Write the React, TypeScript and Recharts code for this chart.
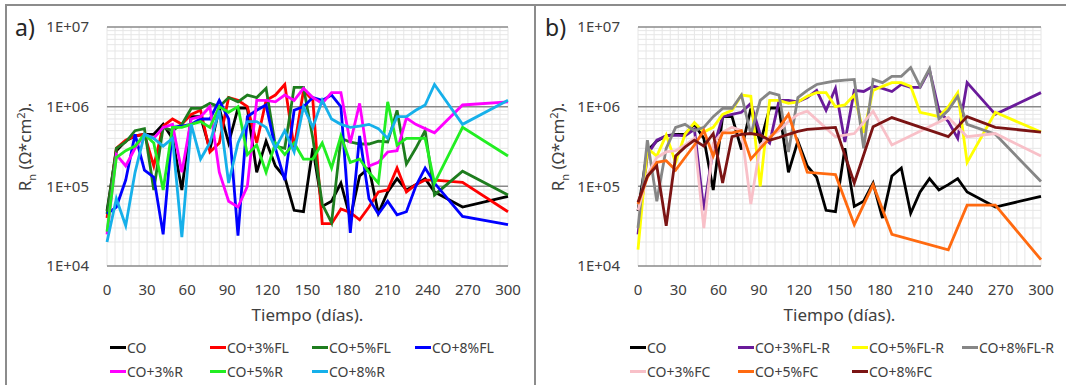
import { LineChart, Line, XAxis, YAxis, CartesianGrid, Legend } from "recharts";

// sampling days (weekly, then two late readings)
const DAYS = [0, 7, 14, 21, 28, 35, 42, 49, 56, 63, 70, 77, 84, 91, 98, 105, 112, 119, 126, 133, 140, 147, 154, 161, 168, 175, 182, 189, 196, 203, 210, 217, 224, 231, 238, 245, 266, 300];

const CO = [4.9e4, 2.8e5, 3.7e5, 4.3e5, 4.5e5, 4.5e5, 6e5, 4e5, 9e4, 7.5e5, 7.5e5, 2.9e5, 9.5e5, 3.5e5, 9.6e5, 9.6e5, 1.5e5, 3.7e5, 1.8e5, 1.3e5, 5e4, 4.8e4, 3e5, 5.6e4, 6.5e4, 1.1e5, 4e4, 1.35e5, 1.7e5, 4.6e4, 8.5e4, 1.25e5, 9e4, 1.05e5, 1.25e5, 8.5e4, 5.5e4, 7.5e4];

// panel a)
const CO_3FL = [4e4, 3e5, 3.8e5, 4.3e5, 4.5e5, 1.8e5, 5.7e5, 7e5, 6e5, 8e5, 9e5, 2.7e5, 3.5e5, 1.3e6, 1.2e6, 1e6, 3.5e5, 1.2e6, 1.4e6, 1.9e6, 3e5, 1.6e6, 1.2e6, 3.4e4, 3.4e4, 5.2e4, 4.7e4, 3.8e4, 5.5e4, 8.5e4, 9e4, 1.7e5, 8.5e4, 1.05e5, 1.2e5, 1.2e5, 1.12e5, 4.8e4];
const CO_5FL = [4.5e4, 3e5, 3.6e5, 5e5, 5.3e5, 9e4, 5.5e5, 5e5, 6e5, 9.5e5, 9.5e5, 1.1e6, 1e6, 1.3e6, 1.15e6, 1.4e6, 1.3e6, 1.7e6, 3.2e5, 3e5, 1.75e6, 1.75e6, 4e5, 6e4, 3.5e4, 4e5, 3.6e5, 3.4e5, 3.4e5, 3.7e5, 3.6e5, 9e5, 1.9e5, 3e5, 5e5, 7.8e4, 1.55e5, 7.8e4];
const CO_8FL = [4.5e4, 5.5e4, 1.2e5, 4.5e5, 1.6e5, 1.3e5, 2.5e4, 5.5e5, 5.7e5, 6e5, 7e5, 7e5, 1.2e6, 7e5, 2.4e4, 7.5e5, 9e5, 1.05e6, 3e5, 1.2e5, 9e5, 1e6, 1.3e6, 1.2e6, 1.4e6, 1e6, 2.6e4, 4.3e5, 7e4, 4.5e4, 6.5e4, 4.4e4, 4.8e4, 1e5, 1.7e5, 1.1e5, 4.2e4, 3.3e4];
const CO_3R = [2.5e4, 2.5e5, 1.8e5, 3e5, 4.5e5, 4e5, 5.5e5, 6e5, 1.5e5, 7e5, 7.5e5, 1e6, 1.5e5, 6.5e4, 5.5e4, 1e5, 1.2e6, 1.2e6, 1.15e6, 1.4e6, 1.2e6, 1.7e6, 1.3e6, 1.1e6, 1.5e6, 1.5e6, 3.5e5, 1.1e6, 1.8e5, 2e5, 2.7e5, 2.8e5, 7.2e5, 6e5, 5.3e5, 4.7e5, 1.05e6, 1.15e6];
const CO_5R = [2.7e4, 2.3e5, 2.8e5, 3.2e5, 4.5e5, 3.5e5, 9e4, 5.5e5, 5.5e5, 6e5, 6.5e5, 5.5e5, 1e6, 8.5e5, 1e6, 2.5e5, 3.3e5, 1.5e5, 3.5e5, 2.5e5, 3.5e5, 2.2e5, 2.2e5, 3.5e5, 1.7e5, 4.3e5, 2e5, 2.2e5, 1.5e5, 1.1e5, 1.15e6, 3.3e5, 4e5, 4e5, 4e5, 1.1e5, 5.5e5, 2.4e5];
const CO_8R = [2e4, 7e4, 3.2e4, 1.5e5, 4.5e5, 4e5, 3.2e5, 4e5, 2.3e4, 6e5, 2.2e5, 3.5e5, 9e5, 1.1e5, 3.5e5, 6.5e5, 6.5e5, 5.5e5, 3e5, 5e5, 2.7e5, 1e6, 5.5e5, 1.2e6, 7e5, 6e5, 5.5e5, 5.7e5, 6e5, 5.3e5, 4e5, 7.5e5, 7.5e5, 9e5, 1.05e6, 1.9e6, 6e5, 1.2e6];

// panel b)
const CO_3FLR = [2.5e4, 2.5e5, 3.8e5, 4.3e5, 4.4e5, 4.3e5, 5.2e5, 5e4, 3e5, 7.5e5, 8e5, 8.5e5, 1.1e6, 4.5e5, 3.5e5, 1.2e6, 1.2e6, 1.15e6, 1.3e6, 1.6e6, 9e5, 1.7e6, 3.6e5, 1.6e6, 1.55e6, 1.8e6, 1.7e6, 1.55e6, 1.9e6, 1.75e6, 1.75e6, 2.9e6, 9e5, 6.5e5, 4e5, 2e6, 8e5, 1.5e6];
const CO_5FLR = [1.6e4, 3e5, 2.4e5, 4.4e5, 2e5, 4.5e5, 6.3e5, 4.8e5, 5.5e5, 8e5, 9e5, 1.4e6, 1.35e6, 1e5, 1.2e6, 1.2e6, 1.1e6, 1.15e6, 1.35e6, 1.5e6, 1.5e6, 1e6, 1.05e6, 1.4e6, 4.7e5, 1.6e6, 1.8e6, 2e6, 2e6, 1.8e6, 8.5e5, 8e5, 7.5e5, 1e6, 1.5e6, 2e5, 8.5e5, 4.8e5];
const CO_8FLR = [3e4, 3.8e5, 6.5e4, 3e5, 5.5e5, 6e5, 5e5, 5.5e5, 7.5e5, 9.5e5, 9.5e5, 1.4e6, 4.5e5, 1.2e6, 1.5e6, 1.4e6, 2.7e5, 1.3e6, 1.6e6, 1.9e6, 2e6, 2.1e6, 2.15e6, 2.2e6, 3e5, 2.2e6, 2e6, 2.4e6, 2.4e6, 3.1e6, 1.8e6, 3e6, 7e5, 9e5, 1.35e6, 6e5, 4.5e5, 1.15e5];
const CO_3FC = [5e4, 1.4e5, 2.3e5, 2.7e5, 2.8e5, 3.3e5, 4e5, 3e4, 3.5e5, 4.8e5, 5.5e5, 5e5, 6e4, 3.3e5, 4.2e5, 5e5, 6.5e5, 8e5, 8.8e5, null, null, 4.2e5, null, 4.6e5, null, 8.8e5, null, 3.3e5, null, null, null, null, null, 7.3e5, null, 4.2e5, 4.6e5, 2.4e5];
const CO_5FC = [6e4, 1.3e5, 2e5, 2.1e5, 1.6e5, 2.3e5, 3.3e5, 5e5, 2.4e5, 4.7e5, 4.7e5, 5e5, 2.2e5, 3e5, 4e5, 5.5e5, 8e5, null, 1.5e5, null, null, 1.4e5, null, 3.3e4, null, 1.05e5, null, 2.5e4, null, null, null, null, null, 1.6e4, null, 5.8e4, 5.8e4, 1.2e4];
const CO_8FC = [6.3e4, 1.35e5, 1.8e5, 3.2e4, 2.4e5, 3.1e5, 3.8e5, 3.2e5, 4.6e5, 1.1e5, 4.2e5, 4.5e5, 4.6e5, 4.4e5, 3.8e5, 4.1e5, 4.5e5, 4.9e5, 5.2e5, null, null, 5.5e5, null, 1.1e5, null, 5.6e5, null, 7.3e5, null, null, null, null, null, 4.2e5, null, 7.5e5, 5.5e5, 4.8e5];

const X_TICKS = [0, 30, 60, 90, 120, 150, 180, 210, 240, 270, 300];
const Y_TICKS = [1e4, 1e5, 1e6, 1e7];

// light excel-style minor grid
const X_MINOR: number[] = [];
for (let d = 0; d <= 300; d += 6) X_MINOR.push(d);
const Y_MINOR: number[] = [];
for (const dec of [1e4, 1e5, 1e6]) for (let k = 2; k <= 9; k++) Y_MINOR.push(k * dec);

const FONT = "'Noto Sans', 'Open Sans', sans-serif";
const TEXT = "#404040";

type Series = { key: string; name: string; color: string; values: (number | null)[]; col: number; row: number };

const SERIES_A: Series[] = [
  { key: "co", name: "CO", color: "#000000", values: CO, col: 0, row: 0 },
  { key: "fl3", name: "CO+3%FL", color: "#ff0000", values: CO_3FL, col: 1, row: 0 },
  { key: "fl5", name: "CO+5%FL", color: "#1e7d1e", values: CO_5FL, col: 2, row: 0 },
  { key: "fl8", name: "CO+8%FL", color: "#0000ff", values: CO_8FL, col: 3, row: 0 },
  { key: "r3", name: "CO+3%R", color: "#ff00ff", values: CO_3R, col: 0, row: 1 },
  { key: "r5", name: "CO+5%R", color: "#22ee22", values: CO_5R, col: 1, row: 1 },
  { key: "r8", name: "CO+8%R", color: "#16b0ea", values: CO_8R, col: 2, row: 1 },
];

const SERIES_B: Series[] = [
  { key: "co", name: "CO", color: "#000000", values: CO, col: 0, row: 0 },
  { key: "flr3", name: "CO+3%FL-R", color: "#6a1b9a", values: CO_3FLR, col: 1, row: 0 },
  { key: "flr5", name: "CO+5%FL-R", color: "#ffff00", values: CO_5FLR, col: 2, row: 0 },
  { key: "flr8", name: "CO+8%FL-R", color: "#868686", values: CO_8FLR, col: 3, row: 0 },
  { key: "fc3", name: "CO+3%FC", color: "#f8c0c8", values: CO_3FC, col: 0, row: 1 },
  { key: "fc5", name: "CO+5%FC", color: "#ff6a10", values: CO_5FC, col: 1, row: 1 },
  { key: "fc8", name: "CO+8%FC", color: "#7b1414", values: CO_8FC, col: 2, row: 1 },
];

function fmtExp(v: number) {
  return `1E+0${Math.round(Math.log10(v))}`;
}

interface PanelProps {
  letter: string;
  series: Series[];
  plotLeft: number;
  letterX: number;
  legendCols: number[];
}

const W = 533;
const H = 385;
const RIGHT = 25;

function Panel({ letter, series, plotLeft, letterX, legendCols }: PanelProps) {
  const data = DAYS.map((day, i) => {
    const row: Record<string, number | null> = { day };
    series.forEach((s) => (row[s.key] = s.values[i]));
    return row;
  });
  const plotCenter = plotLeft + (W - plotLeft - RIGHT) / 2;

  const legend = () => (
    <div style={{ position: "relative", width: W, height: 50, fontFamily: FONT }}>
      {series.map((s) => (
        <div
          key={s.key}
          style={{
            position: "absolute",
            left: legendCols[s.col],
            top: s.row * 24,
            height: 24,
            display: "flex",
            alignItems: "center",
            whiteSpace: "nowrap",
          }}
        >
          <span style={{ display: "inline-block", width: 16, height: 3, background: s.color }} />
          <span style={{ marginLeft: 1, fontSize: 14, color: TEXT }}>{s.name}</span>
        </div>
      ))}
    </div>
  );

  return (
    <div style={{ position: "relative", width: W, height: H }}>
      <LineChart width={W} height={H} data={data} margin={{ top: 27, right: RIGHT, left: 0, bottom: 69 }}>
        <CartesianGrid horizontalValues={Y_MINOR} verticalValues={X_MINOR} stroke="#e6e6e6" strokeWidth={1} />
        <CartesianGrid vertical={false} horizontalValues={Y_TICKS} stroke="#8a8a8a" strokeWidth={1.5} />
        <XAxis
          dataKey="day"
          type="number"
          domain={[0, 300]}
          ticks={X_TICKS}
          interval={0}
          axisLine={false}
          tickLine={false}
          height={50}
          tickMargin={12}
          tick={{ fontSize: 15, fill: TEXT, fontFamily: FONT }}
        />
        <YAxis
          type="number"
          scale="log"
          domain={[1e4, 1e7]}
          ticks={Y_TICKS}
          allowDataOverflow
          interval={0}
          width={plotLeft}
          axisLine={false}
          tickLine={false}
          tickMargin={12}
          tickFormatter={fmtExp}
          tick={{ fontSize: 15, fill: TEXT, fontFamily: FONT }}
        />
        {series.map((s) => (
          <Line
            key={s.key}
            type="linear"
            dataKey={s.key}
            name={s.name}
            stroke={s.color}
            strokeWidth={2.8}
            dot={false}
            activeDot={false}
            connectNulls
            isAnimationActive={false}
          />
        ))}
        <Legend
          layout="horizontal"
          verticalAlign="middle"
          align="center"
          wrapperStyle={{ left: 0, top: 335, width: W, height: 50 }}
          content={legend}
        />
      </LineChart>
      <svg
        width={W}
        height={H}
        style={{ position: "absolute", left: 0, top: 0, pointerEvents: "none" }}
        fontFamily={FONT}
      >
        <text x={letterX} y={36} fontSize={23} fill="#262626">
          {letter}
        </text>
        <text transform="translate(31,147) rotate(-90)" textAnchor="middle" fontSize={17} fill={TEXT}>
          R<tspan dy={5} fontSize={11}>n</tspan>
          <tspan dy={-5}> (Ω*cm</tspan>
          <tspan dy={-6} fontSize={11}>2</tspan>
          <tspan dy={6}>).</tspan>
        </text>
        <text x={plotCenter} y={321} textAnchor="middle" fontSize={17} fill={TEXT}>
          Tiempo (días).
        </text>
      </svg>
    </div>
  );
}

export default function App() {
  return (
    <div style={{ position: "relative", width: 1066, height: 385, overflow: "hidden", background: "#fff" }}>
      <style>{`body{margin:0}`}</style>
      <div style={{ position: "absolute", left: 0, top: 0 }}>
        <Panel letter="a)" series={SERIES_A} plotLeft={107} letterX={15} legendCols={[110, 210, 312, 415]} />
      </div>
      <div style={{ position: "absolute", left: 533, top: 0 }}>
        <Panel letter="b)" series={SERIES_B} plotLeft={105} letterX={12} legendCols={[97, 205, 319, 429]} />
      </div>
      <div
        style={{
          position: "absolute",
          left: 5,
          top: 4,
          width: 1080,
          height: 400,
          border: "2px solid #8c8c8c",
          pointerEvents: "none",
        }}
      />
      <div style={{ position: "absolute", left: 534, top: 4, width: 2, height: 385, background: "#8c8c8c" }} />
    </div>
  );
}
